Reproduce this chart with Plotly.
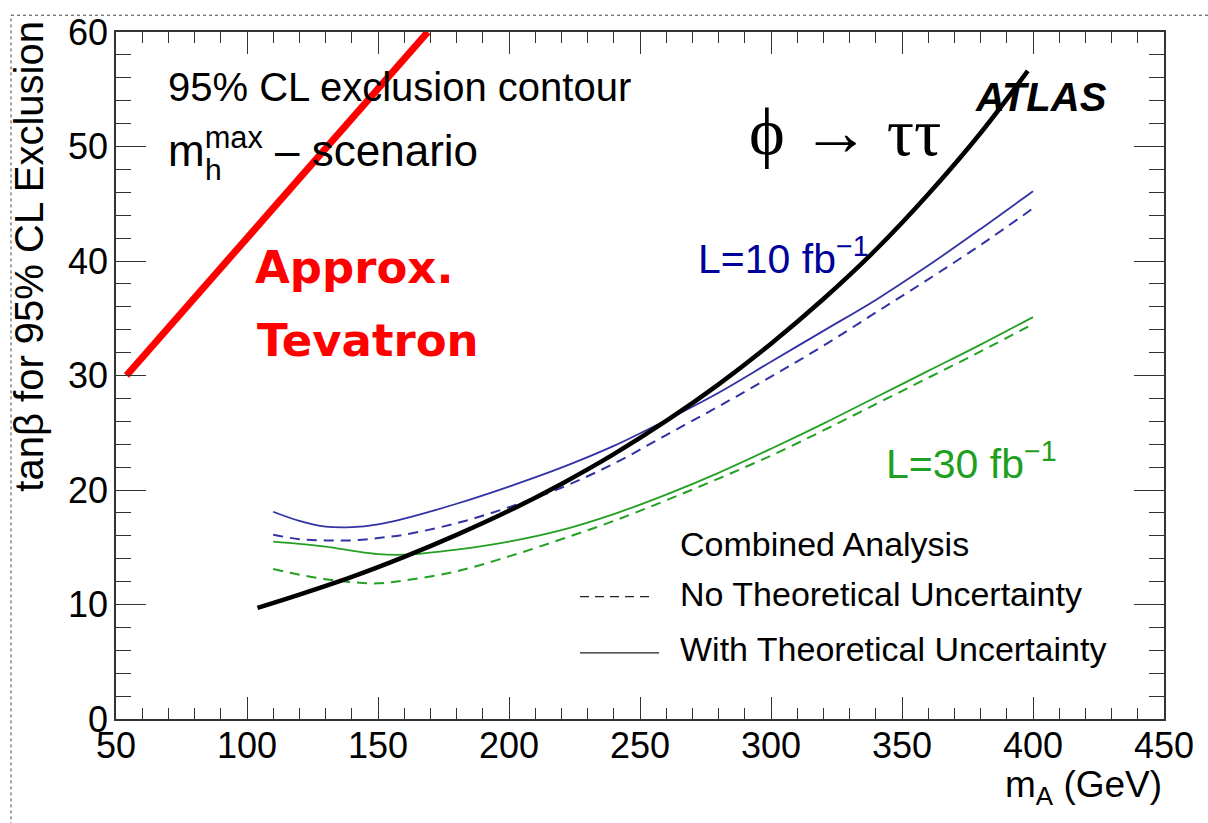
import plotly.graph_objects as go

# ---------------- data ----------------
tevatron_mA = [54, 169]
tevatron_tb = [30, 60]

phitautau_mA = [104, 120, 140, 160, 180, 200, 220, 240, 260, 280, 300, 320, 340, 360, 380, 398]
phitautau_tb = [9.7, 10.86, 12.41, 14.16, 16.08, 18.18, 20.53, 23.13, 26.03, 29.23, 32.78, 36.68, 40.98, 45.83, 51.18, 56.6]

mA_grid = [110, 120, 130, 140, 150, 160, 180, 200, 220, 240, 260, 280, 300, 320, 340, 360, 380, 400]
l10_with = [18.1, 17.3, 16.8, 16.75, 17.0, 17.5, 18.8, 20.3, 21.95, 23.85, 26.1, 28.5, 31.2, 33.9, 36.6, 39.6, 42.8, 46.1]
l10_no = [16.1, 15.7, 15.6, 15.6, 15.8, 16.1, 17.1, 18.5, 20.2, 22.3, 24.8, 27.3, 29.9, 32.6, 35.5, 38.4, 41.4, 44.6]
l30_with = [15.5, 15.3, 15.05, 14.7, 14.4, 14.35, 14.8, 15.5, 16.5, 17.9, 19.6, 21.5, 23.6, 25.8, 28.1, 30.4, 32.7, 35.1]
l30_no = [13.1, 12.6, 12.2, 11.95, 11.85, 12.1, 12.9, 14.2, 15.7, 17.3, 19.1, 21.0, 23.0, 25.2, 27.5, 29.8, 32.1, 34.5]

x_ticks = [50, 100, 150, 200, 250, 300, 350, 400, 450]
y_ticks = [0, 10, 20, 30, 40, 50, 60]

# ---------------- style ----------------
W, H = 1208, 823
L, R, T, B = 116, 1164, 23, 719
FONT = "Liberation Sans, Arial, Helvetica, sans-serif"
BLUE_LINE = "#3232a4"
BLUE_TEXT = "#00009a"
GREEN_LINE = "#23a023"
GREEN_TEXT = "#1f9f1f"


def px(x):
    return (x - L) / (R - L)


def py(y):
    return (B - y) / (B - T)


fig = go.Figure()

fig.add_trace(go.Scatter(x=tevatron_mA, y=tevatron_tb, mode="lines",
                         line=dict(color="#ff0000", width=7), showlegend=False))
fig.add_trace(go.Scatter(x=mA_grid, y=l10_with, mode="lines", line_shape="spline",
                         line=dict(color=BLUE_LINE, width=1.8), showlegend=False))
fig.add_trace(go.Scatter(x=mA_grid, y=l10_no, mode="lines", line_shape="spline",
                         line=dict(color=BLUE_LINE, width=2, dash="10px,7px"), showlegend=False))
fig.add_trace(go.Scatter(x=mA_grid, y=l30_with, mode="lines", line_shape="spline",
                         line=dict(color=GREEN_LINE, width=1.8), showlegend=False))
fig.add_trace(go.Scatter(x=mA_grid, y=l30_no, mode="lines", line_shape="spline",
                         line=dict(color=GREEN_LINE, width=2, dash="10px,7px"), showlegend=False))
fig.add_trace(go.Scatter(x=phitautau_mA, y=phitautau_tb, mode="lines", line_shape="spline",
                         line=dict(color="#000000", width=4.5), showlegend=False))

axis_common = dict(
    showline=True, linecolor="#333333", linewidth=1.5, mirror="ticks",
    ticks="inside", tickcolor="#333333", tickwidth=1.2,
    showgrid=False, zeroline=False,
    tickfont=dict(family=FONT, size=36, color="#000000"),
)

fig.update_xaxes(range=[50, 450], tickvals=x_ticks, ticktext=[str(v) for v in x_ticks],
                 ticklen=22, ticklabelstandoff=-6,
                 minor=dict(dtick=10, tick0=50, ticks="inside", ticklen=11, tickcolor="#333333", tickwidth=1.2),
                 **axis_common)
fig.update_yaxes(range=[0, 60], tickvals=y_ticks, ticktext=[str(v) for v in y_ticks],
                 ticklen=30, ticklabelstandoff=-1,
                 minor=dict(dtick=2, tick0=0, ticks="inside", ticklen=15, tickcolor="#333333", tickwidth=1.2),
                 **axis_common)

ann = []
# axis titles
ann.append(dict(text="m<sub>A</sub> (GeV)", x=1.0, y=py(788), xanchor="right", yanchor="middle",
                font=dict(family=FONT, size=37, color="#000")))
ann.append(dict(text="tanβ for 95% CL Exclusion", x=px(29), y=py(10), xanchor="center", yanchor="top",
                textangle=-90, font=dict(family=FONT, size=40, color="#000")))
# in-plot texts
ann.append(dict(text="95% CL exclusion contour", x=px(166), y=py(79), xanchor="left", yanchor="middle",
                font=dict(family=FONT, size=40, color="#000")))
ann.append(dict(text="m<sup>max</sup> – scenario", x=px(166), y=py(140), xanchor="left", yanchor="middle",
                font=dict(family=FONT, size=44, color="#000")))
ann.append(dict(text="h", x=px(203), y=py(162), xanchor="left", yanchor="middle",
                font=dict(family=FONT, size=30, color="#000")))
ann.append(dict(text="<b><i>ATLAS</i></b>", x=px(973), y=py(89), xanchor="left", yanchor="middle",
                font=dict(family=FONT, size=40, color="#000")))
ann.append(dict(text="ϕ → ττ", x=px(845), y=py(124), xanchor="center", yanchor="middle",
                font=dict(family="Liberation Serif, DejaVu Serif, serif", size=68, color="#000")))
ann.append(dict(text="<b>Approx.</b>", x=px(253), y=py(262), xanchor="left", yanchor="middle",
                font=dict(family="DejaVu Sans", size=45, color="#ff0000")))
ann.append(dict(text="<b>Tevatron</b>", x=px(255), y=py(336), xanchor="left", yanchor="middle",
                font=dict(family="DejaVu Sans", size=45, color="#ff0000")))
ann.append(dict(text="L=10 fb<sup>−1</sup>", x=px(696), y=py(250), xanchor="left", yanchor="middle",
                font=dict(family=FONT, size=41, color=BLUE_TEXT)))
ann.append(dict(text="L=30 fb<sup>−1</sup>", x=px(884), y=py(458), xanchor="left", yanchor="middle",
                font=dict(family=FONT, size=41, color=GREEN_TEXT)))
# legend texts
ann.append(dict(text="Combined Analysis", x=px(678), y=py(542), xanchor="left", yanchor="middle",
                font=dict(family=FONT, size=34, color="#000")))
ann.append(dict(text="No Theoretical Uncertainty", x=px(678), y=py(592), xanchor="left", yanchor="middle",
                font=dict(family=FONT, size=34, color="#000")))
ann.append(dict(text="With Theoretical Uncertainty", x=px(678), y=py(648), xanchor="left", yanchor="middle",
                font=dict(family=FONT, size=34, color="#000")))
for a in ann:
    a.update(xref="paper", yref="paper", showarrow=False)

shapes = [
    # legend keys
    dict(type="line", xref="paper", yref="paper", x0=px(580), x1=px(653), y0=py(595), y1=py(595),
         line=dict(color="#222222", width=1.2, dash="9px,6px")),
    dict(type="line", xref="paper", yref="paper", x0=px(580), x1=px(659), y0=py(652), y1=py(652),
         line=dict(color="#222222", width=1.2)),
    # slide border (dotted)
    dict(type="rect", xref="paper", yref="paper", x0=px(11), x1=px(1230), y0=py(6), y1=py(850),
         line=dict(color="#444444", width=1, dash="dot"), layer="above"),
]

fig.update_layout(
    width=W, height=H,
    margin=dict(l=L, r=W - R, t=T, b=H - B),
    paper_bgcolor="white", plot_bgcolor="white",
    annotations=ann, shapes=shapes, showlegend=False,
)

fig.write_html("out.html")
